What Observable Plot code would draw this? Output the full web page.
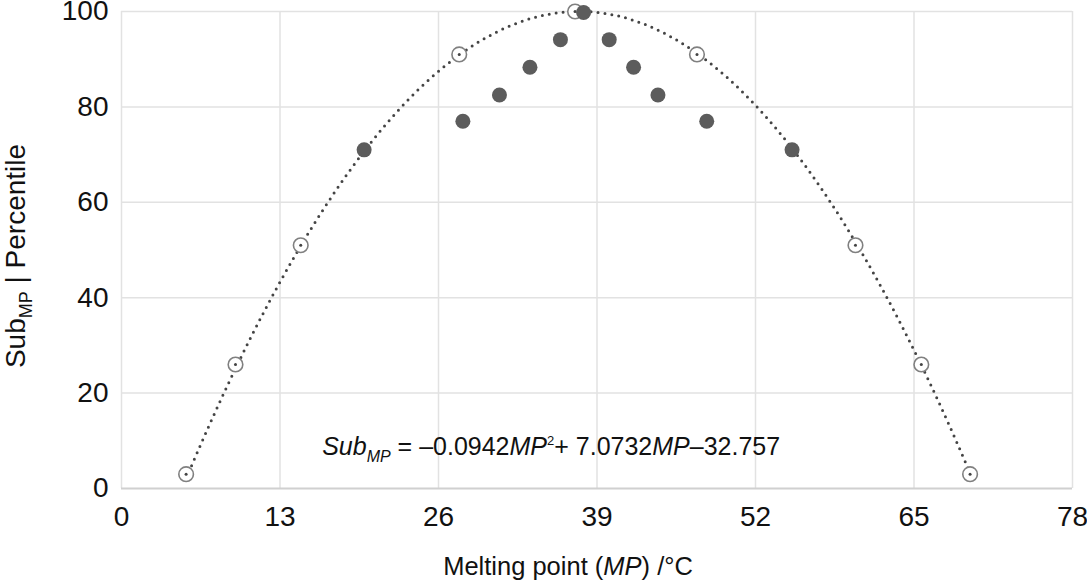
<!DOCTYPE html>
<html>
<head>
<meta charset="utf-8">
<script src="https://cdn.jsdelivr.net/npm/d3@7"></script>
<script src="https://cdn.jsdelivr.net/npm/@observablehq/plot@0.6"></script>
<style>
  html, body { margin: 0; padding: 0; background: #fff; }
  #chart svg { display: block; font-family: "Liberation Sans", Arial, sans-serif; }
</style>
</head>
<body>
<div id="chart"></div>
<script>
// Open circles (on the fitted curve)
const openX = [5.3, 9.35, 14.7, 27.7, 37.2, 47.2, 60.2, 65.6, 69.6];
const openY = [3, 26, 51, 91, 100, 91, 51, 26, 3];
// Filled circles
const filledX = [19.9, 28.0, 31.0, 33.5, 36.0, 37.9, 40.0, 42.0, 44.0, 48.0, 55.0];
const filledY = [71, 77, 82.5, 88.3, 94.1, 99.8, 94.1, 88.3, 82.5, 77, 71];
// Trendline coefficients as printed on the chart: a*MP^2 + b*MP + c
const trendCoef = [-0.0942, 7.0732, -32.757];
const trendRange = [5.3, 69.6];
// Ticks
const xTicks = [0, 13, 26, 39, 52, 65, 78];
const yTicks = [0, 20, 40, 60, 80, 100];

const openData = openX.map((x, i) => ({x, y: openY[i]}));
const filledData = filledX.map((x, i) => ({x, y: filledY[i]}));
const trendData = d3.range(trendRange[0], trendRange[1] + 0.001, 0.25)
  .concat([trendRange[1]])
  .map(x => ({x, y: trendCoef[0] * x * x + trendCoef[1] * x + trendCoef[2]}));

const W = 1087, H = 583;
const plot = Plot.plot({
  width: W,
  height: H,
  marginLeft: 121,
  marginRight: 15,
  marginTop: 11,
  marginBottom: 95,
  style: {fontFamily: "'Liberation Sans', Arial, sans-serif", fontSize: "28px", color: "#111", background: "#fff"},
  x: {domain: [0, 78]},
  y: {domain: [0, 100]},
  marks: [
    Plot.gridX(xTicks, {stroke: "#e2e2e2", strokeOpacity: 1, strokeWidth: 1.5}),
    Plot.gridY(yTicks.filter(d => d > 0), {stroke: "#e2e2e2", strokeOpacity: 1, strokeWidth: 1.5}),
    Plot.ruleY([0], {stroke: "#d0d0d0", strokeWidth: 2}),
    Plot.axisX(xTicks, {tickSize: 0, tickPadding: 18, label: null, fontSize: 28, fill: "#111"}),
    Plot.axisY(yTicks, {tickSize: 0, tickPadding: 13, label: null, fontSize: 28, fill: "#111"}),
    Plot.line(trendData, {x: "x", y: "y", stroke: "#444", strokeWidth: 3, strokeDasharray: "0 7", strokeLinecap: "round", curve: "linear"}),
    Plot.dot(openData, {x: "x", y: "y", r: 7.3, fill: "#fff", stroke: "#808080", strokeWidth: 1.6}),
    Plot.dot(openData, {x: "x", y: "y", r: 1.5, fill: "#444", stroke: "none"}),
    Plot.dot(filledData, {x: "x", y: "y", r: 7.5, fill: "#5c5c5c", stroke: "none"})
  ]
});
document.getElementById("chart").appendChild(plot);

const svg = d3.select(plot);
const sx = plot.scale("x"), sy = plot.scale("y");

// Equation
const eq = svg.append("text")
  .attr("x", sx.apply(16.5))
  .attr("y", sy.apply(6.9))
  .attr("text-anchor", "start")
  .attr("font-size", 25)
  .attr("fill", "#111");
eq.append("tspan").attr("font-style", "italic").text("Sub");
eq.append("tspan").attr("font-style", "italic").attr("font-size", 16).attr("dy", 7).text("MP");
eq.append("tspan").attr("dy", -7).text(" = –0.0942");
eq.append("tspan").attr("font-style", "italic").text("MP");
eq.append("tspan").attr("font-size", 13).attr("dy", -10).text("2");
eq.append("tspan").attr("dy", 10).text("+ 7.0732");
eq.append("tspan").attr("font-style", "italic").text("MP");
eq.append("tspan").text("–32.757");

// X axis label
const xl = svg.append("text")
  .attr("x", 568)
  .attr("y", 575)
  .attr("text-anchor", "middle")
  .attr("font-size", 25.5)
  .attr("fill", "#111");
xl.append("tspan").text("Melting point (");
xl.append("tspan").attr("font-style", "italic").text("MP");
xl.append("tspan").text(") /°C");

// Y axis label
const yl = svg.append("text")
  .attr("transform", "translate(25,256) rotate(-90)")
  .attr("text-anchor", "middle")
  .attr("font-size", 28)
  .attr("fill", "#111");
yl.append("tspan").text("Sub");
yl.append("tspan").attr("font-size", 18).attr("dy", 7).text("MP");
yl.append("tspan").attr("dy", -7).text(" | Percentile");
</script>
</body>
</html>
